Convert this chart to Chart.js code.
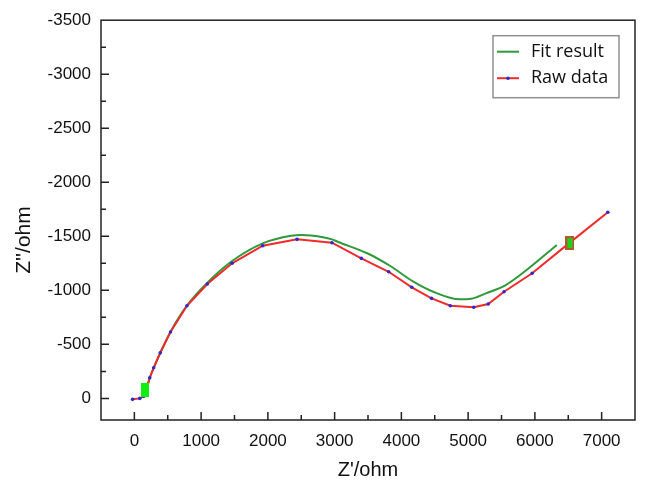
<!DOCTYPE html>
<html>
<head>
<meta charset="utf-8">
<script src="https://cdn.jsdelivr.net/npm/chart.js@4.4.0/dist/chart.umd.min.js"></script>
<style>
html, body { margin: 0; padding: 0; background: #fff; }
#wrap { width: 646px; height: 480px; }
</style>
</head>
<body>
<div id="wrap"><canvas id="graph1" width="646" height="480"></canvas></div>
<script>
// raw impedance data (Z', Z'')
var rawX = [-27, 81, 141, 181, 230, 289, 388, 541, 788, 1093, 1464, 1923, 2437, 2960, 3400, 3810, 4156, 4452, 4733, 5084, 5301, 5538, 5959, 6500, 7093];
var rawY = [9, 0, -19, -74, -191, -283, -422, -614, -857, -1058, -1250, -1413, -1472, -1441, -1296, -1172, -1028, -926, -857, -843, -873, -987, -1158, -1430, -1722];

// fit result
var fitX = [150, 230, 290, 390, 540, 790, 1093, 1464, 1923, 2350, 2500, 2650, 2960, 3044, 3489, 3834, 4180, 4477, 4871, 5044, 5267, 5563, 5908, 6329];
var fitY = [-30, -190, -285, -425, -615, -860, -1070, -1271, -1435, -1505, -1512, -1508, -1472, -1450, -1343, -1225, -1080, -987, -917, -922, -972, -1049, -1204, -1420];

// cursor marks on the curves
var markX = [157, 6526];
var markY = [-80, -1438];

var xTicks = [0, 1000, 2000, 3000, 4000, 5000, 6000, 7000];
var yTicks = [0, -500, -1000, -1500, -2000, -2500, -3000, -3500];
var yTitle = "Z''/ohm";

function pts(xs, ys) {
    var out = [];
    for (let i = 0; i < xs.length; i++) {
        out.push({ x: xs[i], y: ys[i] });
    }
    return out;
}

function boxImage(w, h, fill, edge) {
    var c = document.createElement('canvas');
    c.width = w; c.height = h;
    var g = c.getContext('2d');
    g.fillStyle = edge || fill;
    g.fillRect(0, 0, w, h);
    if (edge) {
        g.fillStyle = fill;
        g.fillRect(2, 2, w - 4, h - 4);
    }
    return c;
}

var frameTicks = {
    id: 'frameTicks',
    afterDatasetsDraw(chart) {
        var ctx = chart.ctx, a = chart.chartArea;
        var x = chart.scales.x, y = chart.scales.y;
        ctx.save();
        ctx.strokeStyle = '#222';
        ctx.lineWidth = 1.5;
        ctx.strokeRect(a.left, a.top, a.right - a.left, a.bottom - a.top);
        ctx.beginPath();
        x.ticks.forEach(t => {
            var px = x.getPixelForValue(t.value);
            if (px <= a.left + 1 || px >= a.right - 1) return;
            var len = t.value % 1000 === 0 ? 8 : 5;
            ctx.moveTo(px, a.bottom);
            ctx.lineTo(px, a.bottom - len);
        });
        y.ticks.forEach(t => {
            var py = y.getPixelForValue(t.value);
            if (py <= a.top + 1 || py >= a.bottom - 1) return;
            var len = t.value % 500 === 0 ? 8 : 5;
            ctx.moveTo(a.left, py);
            ctx.lineTo(a.left + len, py);
        });
        ctx.stroke();

        // y axis title, a bit below the middle like the original
        ctx.save();
        ctx.translate(24, 240);
        ctx.rotate(-Math.PI / 2);
        ctx.font = '21px "Liberation Sans", Arial';
        ctx.textAlign = 'center';
        ctx.textBaseline = 'middle';
        ctx.fillStyle = '#111';
        ctx.fillText(yTitle, 0, 0);
        ctx.restore();

        // legend box
        var bx = a.right - 142, by = a.top + 15.5, bw = 126, bh = 62;
        ctx.fillStyle = '#fff';
        ctx.fillRect(bx, by, bw, bh);
        ctx.strokeStyle = '#909090';
        ctx.lineWidth = 1.5;
        ctx.strokeRect(bx, by, bw, bh);
        ctx.font = '18px "Open Sans"';
        ctx.textBaseline = 'middle';
        var rows = [chart.data.datasets[0], chart.data.datasets[1]];
        rows.forEach((ds, i) => {
            var ly = by + 16 + i * 26.5;
            ctx.strokeStyle = ds.borderColor;
            ctx.lineWidth = 2;
            ctx.beginPath();
            ctx.moveTo(bx + 4, ly);
            ctx.lineTo(bx + 26, ly);
            ctx.stroke();
            if (ds.pointRadius > 0) {
                ctx.fillStyle = ds.pointBackgroundColor;
                ctx.beginPath();
                ctx.arc(bx + 15, ly, 1.8, 0, Math.PI * 2);
                ctx.fill();
            }
            ctx.fillStyle = '#111';
            ctx.fillText(ds.label, bx + 38, ly);
        });
        ctx.restore();
    }
};

var ctx = document.getElementById('graph1').getContext('2d');
var data = {
    datasets: [{
        label: 'Fit result',
        data: pts(fitX, fitY),
        showLine: true,
        borderColor: '#2f9a3c',
        borderWidth: 2,
        pointRadius: 0,
        cubicInterpolationMode: 'monotone',
        order: 2
    }, {
        label: 'Raw data',
        data: pts(rawX, rawY),
        showLine: true,
        borderColor: '#f22a2a',
        borderWidth: 2,
        pointRadius: 1.8,
        pointBorderWidth: 0,
        pointBackgroundColor: '#2a2ad0',
        order: 1
    }, {
        label: 'start',
        data: pts(markX.slice(0, 1), markY.slice(0, 1)),
        pointStyle: boxImage(8, 14, '#10ee10'),
        order: 0
    }, {
        label: 'end',
        data: pts(markX.slice(1), markY.slice(1)),
        pointStyle: boxImage(9, 14, '#20d020', '#b05a28'),
        order: 0
    }]
};

var tickFont = { family: '"Liberation Sans", Arial', size: 17 };

var options = {
    responsive: false,
    animation: false,
    devicePixelRatio: 1,
    layout: { padding: { top: 18, right: 5, left: 0, bottom: 0 } },
    plugins: { legend: { display: false }, tooltip: { enabled: false } },
    scales: {
        x: {
            type: 'linear',
            min: -500,
            max: 7500,
            afterBuildTicks: function (scale) {
                var t = [];
                for (let v = -500; v <= 7500; v += 500) t.push({ value: v });
                scale.ticks = t;
            },
            afterFit: function (scale) { scale.height = 60; },
            grid: { display: false, drawTicks: false },
            border: { display: false },
            ticks: {
                autoSkip: false,
                maxRotation: 0,
                padding: 11,
                color: '#111',
                font: tickFont,
                callback: function (v) { return xTicks.indexOf(v) >= 0 ? String(v) : ''; }
            },
            title: {
                display: true,
                text: "Z'/ohm",
                color: '#111',
                font: { family: '"Liberation Sans", Arial', size: 20, lineHeight: 1 },
                padding: { top: 0, bottom: 0 }
            }
        },
        y: {
            type: 'linear',
            min: -3500,
            max: 200,
            reverse: true,
            afterBuildTicks: function (scale) {
                var t = [];
                for (let v = -3500; v <= 0; v += 250) t.push({ value: v });
                scale.ticks = t;
            },
            afterFit: function (scale) { scale.width = 101; },
            grid: { display: false, drawTicks: false },
            border: { display: false },
            ticks: {
                autoSkip: false,
                padding: 10,
                color: '#111',
                font: tickFont,
                callback: function (v) { return yTicks.indexOf(v) >= 0 ? String(v) : ''; }
            },
            title: { display: false }
        }
    }
};

var config = {
    type: 'scatter',
    data: data,
    options: options,
    plugins: [frameTicks]
};
var graph1 = new Chart(ctx, config);
</script>
</body>
</html>
